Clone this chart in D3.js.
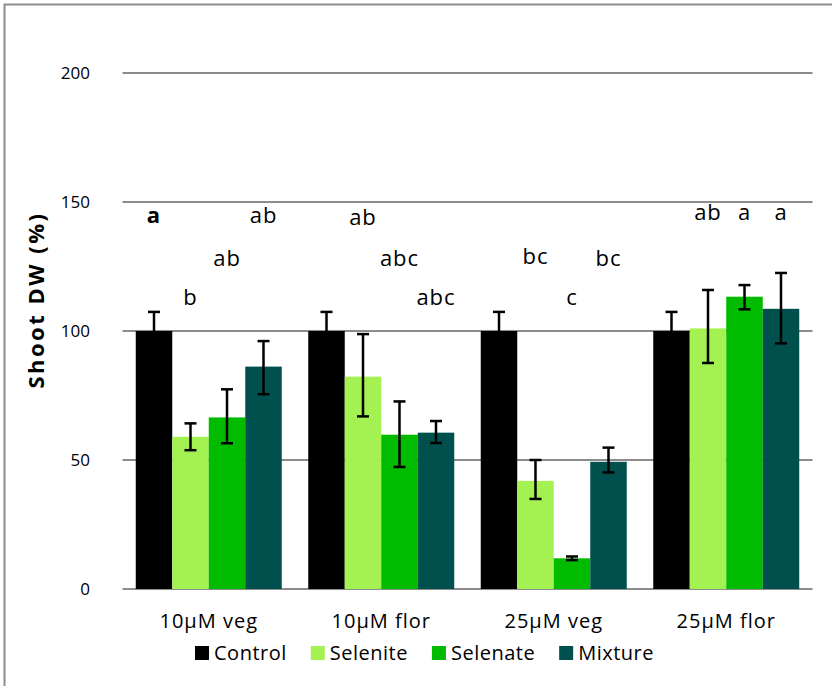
<!DOCTYPE html>
<html>
<head>
<meta charset="utf-8">
<script src="https://cdn.jsdelivr.net/npm/d3@7"></script>
<style>
  body { margin: 0; background: #fff; }
  text { font-family: "Open Sans", "Noto Sans", sans-serif; fill: #000; }
</style>
</head>
<body>
<div id="graph1"></div>
<script>
// Shoot dry weight (% of control) per treatment
const groups = ["10µM veg", "10µM flor", "25µM veg", "25µM flor"];
const series = ["Control", "Selenite", "Selenate", "Mixture"];
const colors = ["#000000", "#a4f152", "#00bb00", "#00504d"];

// bar heights, one list per series (same order as groups)
const control = [100, 100, 100, 100];
const selenite = [59, 82.3, 41.9, 101];
const selenate = [66.5, 59.8, 11.9, 113.3];
const mixture = [86.2, 60.6, 49.3, 108.6];

// error bars: low / high ends
const controlErr = [[93, 107.4], [93, 107.4], [93, 107.4], [93, 107.4]];
const seleniteErr = [[53.8, 64.2], [66.9, 98.8], [34.9, 50], [87.6, 115.9]];
const selenateErr = [[56.5, 77.4], [47.3, 72.7], [11.2, 12.6], [108.4, 117.8]];
const mixtureErr = [[75.5, 96.1], [56.6, 65.1], [45.2, 54.8], [95.2, 122.5]];

// significance letters and the value they sit at
const letters = [
    ["a", "b", "ab", "ab"],
    ["", "ab", "abc", "abc"],
    ["", "bc", "c", "bc"],
    ["", "ab", "a", "a"]
];
const letterLevel = [
    [145, 113, 128, 145],
    [0, 144, 128, 113],
    [0, 129, 113, 128],
    [0, 146, 146, 146]
];

const yTicks = [0, 50, 100, 150, 200];

const width = 832, height = 686;
const margin = {left: 122.5, right: 19.5, top: 73, bottom: 97};

let svg = d3.select("#graph1")
    .append("svg")
    .attr("width", width)
    .attr("height", height);

// outer chart border (runs off the right / bottom of the picture)
svg.append("rect")
    .attr("x", 4.5).attr("y", 4.5)
    .attr("width", width + 20).attr("height", height + 20)
    .attr("fill", "none")
    .attr("stroke", "#8c8c8c")
    .attr("stroke-width", 2);

let x0 = d3.scaleBand()
    .domain(groups)
    .range([margin.left, width - margin.right]);

let x1 = d3.scaleBand()
    .domain(series)
    .range([0, x0.bandwidth()])
    .paddingOuter(0.363);

let y = d3.scaleLinear()
    .domain([0, 200])
    .range([height - margin.bottom, margin.top]);

// gridlines
svg.append("g")
    .selectAll("line")
    .data(yTicks)
    .enter()
    .append("line")
    .attr("x1", margin.left)
    .attr("x2", width - margin.right)
    .attr("y1", d => y(d))
    .attr("y2", d => y(d))
    .attr("stroke", "#8c8c8c")
    .attr("stroke-width", 2);

// y tick labels
svg.append("g")
    .selectAll("text")
    .data(yTicks)
    .enter()
    .append("text")
    .attr("x", 90)
    .attr("y", d => y(d))
    .attr("dy", "0.35em")
    .style("text-anchor", "end")
    .style("font-size", "17px")
    .text(d => d);

// y axis title
svg.append("text")
    .attr("transform", `translate(44, ${y(112)}) rotate(-90)`)
    .style("text-anchor", "middle")
    .style("font-size", "22px")
    .style("letter-spacing", "2.5px")
    .style("font-weight", "bold")
    .text("Shoot DW (%)");

const values = [control, selenite, selenate, mixture];
const errs = [controlErr, seleniteErr, selenateErr, mixtureErr];

let data = [];
groups.forEach(function (g, gi) {
    series.forEach(function (s, si) {
        data.push({
            group: g, series: s, si: si, gi: gi,
            value: values[si][gi],
            lo: errs[si][gi][0], hi: errs[si][gi][1],
            letter: letters[gi][si], level: letterLevel[gi][si]
        });
    });
});

const cx = d => x0(d.group) + x1(d.series) + x1.bandwidth() / 2;

// bars
svg.append("g")
    .selectAll("rect")
    .data(data)
    .enter()
    .append("rect")
    .attr("x", d => x0(d.group) + x1(d.series))
    .attr("y", d => y(d.value))
    .attr("width", x1.bandwidth())
    .attr("height", d => y(0) - y(d.value))
    .style("fill", d => colors[d.si]);

// error bars
let eb = svg.append("g")
    .attr("stroke", "#000")
    .attr("stroke-width", 2.5);
data.forEach(function (d) {
    const c = cx(d);
    eb.append("line").attr("x1", c).attr("x2", c).attr("y1", y(d.lo)).attr("y2", y(d.hi));
    eb.append("line").attr("x1", c - 6).attr("x2", c + 6).attr("y1", y(d.lo)).attr("y2", y(d.lo));
    eb.append("line").attr("x1", c - 6).attr("x2", c + 6).attr("y1", y(d.hi)).attr("y2", y(d.hi));
});

// significance letters
svg.append("g")
    .selectAll("text")
    .data(data.filter(d => d.letter !== ""))
    .enter()
    .append("text")
    .attr("x", cx)
    .attr("y", d => y(d.level))
    .attr("dy", "0.35em")
    .style("text-anchor", "middle")
    .style("font-size", "22px")
    .style("letter-spacing", "1px")
    .style("font-weight", d => (d.gi === 0 && d.si === 0) ? "bold" : "normal")
    .text(d => d.letter);

// category labels
svg.append("g")
    .selectAll("text")
    .data(groups)
    .enter()
    .append("text")
    .attr("x", d => x0(d) + x0.bandwidth() / 2)
    .attr("y", y(0) + 32)
    .attr("dy", "0.35em")
    .style("text-anchor", "middle")
    .style("font-size", "20px")
    .style("letter-spacing", "1px")
    .text(d => d);

// legend
let legend = svg.append("g").attr("transform", "translate(195, 653)");
let lx = 0;
series.forEach(function (s, i) {
    let item = legend.append("g").attr("transform", `translate(${lx}, 0)`);
    item.append("rect")
        .attr("x", 0).attr("y", -7)
        .attr("width", 14).attr("height", 14)
        .style("fill", colors[i]);
    let t = item.append("text")
        .attr("x", 19).attr("y", 0)
        .attr("dy", "0.35em")
        .style("font-size", "20px")
        .style("letter-spacing", "0.5px")
        .text(s);
    lx += 19 + t.node().getComputedTextLength() + 24;
});
</script>
</body>
</html>
